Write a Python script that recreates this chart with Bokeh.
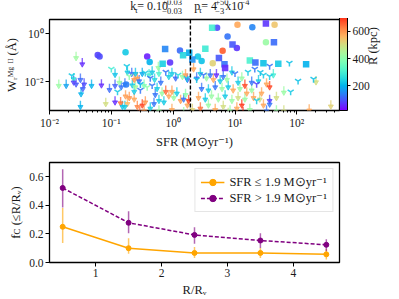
import numpy as np
from bokeh.plotting import figure
from bokeh.models import (ColumnDataSource, ColorBar, LinearColorMapper, FixedTicker,
                          Span, CustomJSTickFormatter, LinearAxis)
from bokeh.layouts import column
from bokeh.embed import file_html
from bokeh.resources import INLINE
from bokeh.core.properties import value

FONT = "Liberation Serif"
TXT = "#1a1a1a"

# ---------------- top panel data (log10 SFR, log10 W, R [kpc]) ----------------
circ_lsfr = [-1.22, -1.19, -0.77, -0.42, -0.05, 0.11, -0.38, -0.76, 0.71, 1.04, 1.28, 1.64,
             0.88, 1.03, 0.80, 1.50, 0.64, 0.46, 0.40]
circ_lw = [-0.88, -0.95, -0.77, -0.95, -1.20, -0.69, -1.17, -2.11, 0.26, 0.38, 0.28, 0.38,
           -0.11, -0.59, -0.71, -0.35, -1.23, -1.13, -0.95]
circ_r = [80, 90, 230, 50, 70, 120, 200, 140, 90, 580, 150, 540, 130, 70, 660, 420, 520, 220, 230]

sq_lsfr = [-0.13, 0.26, 0.16, -0.17, 0.31, 0.63, 1.50, 0.96, 0.52, 1.63, 0.74, 0.83, 0.84,
           1.24, 1.33, 1.46, 1.70, 2.15]
sq_lw = [-0.63, -0.79, -0.89, -1.25, -1.07, 0.26, 0.43, -0.44, -0.62, -0.35, -1.01, -1.27,
         -1.43, -1.11, -1.20, -1.23, -1.25, -1.27]
sq_r = [150, 190, 250, 240, 160, 300, 70, 100, 290, 120, 100, 130, 60, 310, 120, 220, 230, 200]

# upper limits (arrows)
lim_lsfr = [-1.57, -1.47, -1.85, -1.73, -1.61, -1.57, -1.50, -1.46, -1.44, -1.49, -1.32, -1.16,
            -1.03, -0.94, -0.94, -0.85, -0.94, -1.09, -1.50, -0.82, -0.87, -0.84, -1.61,
            -0.74, -0.67, -0.61, -0.58, -0.63, -0.66, -0.55, -0.78, -0.50, -0.39, -0.34, -0.30,
            -0.23, -0.24, -0.07, -0.02, 0.04, 0.15, 0.20, 0.23, -0.20, -0.47, -0.61, -0.77,
            -0.71, -0.63, -0.74, -0.58, -0.54, -0.50, -0.45, -0.29, -0.26, -0.18, -0.15, -0.12,
            -0.07, -0.02, 0.01, 0.06, 0.12, 0.17, 0.20, 0.23, 0.17, -0.02, -0.23, -0.37, -0.47,
            -0.31, -0.23, -0.63, -0.78, 0.33, 0.25, 0.31,
            0.44, 0.38, 0.54, 0.60, 0.65, 0.70, 0.76, 0.81, 0.87, 0.95, 1.05, 1.11, 1.16, 1.27,
            1.38, 1.51, 0.46, 0.57, 0.68, 0.79, 0.89, 0.97, 1.08, 1.19, 1.27, 1.43, 0.41, 0.52,
            0.62, 0.73, 0.84, 0.95, 1.05, 1.16, 1.30, 1.40, 0.44, 0.57, 0.68, 0.81, 0.92, 1.03,
            1.11, 1.13, 1.24, 1.46, 1.51, 0.89,
            1.62, 1.56, 2.31, 1.79, 1.67, 1.56, 1.56, 1.67, 1.79, 2.20, 2.55]
lim_lw = [-0.75, -1.01, -1.91, -1.91, -1.63, -1.85, -1.66, -2.04, -1.85, -2.26, -1.91, -1.89,
          -2.08, -1.45, -1.91, -2.64, -2.60, -2.67, -2.79, -2.79, -1.78, -1.97, -1.77,
          -1.35, -1.41, -1.41, -1.60, -1.66, -1.89, -1.72, -1.85, -1.41, -1.47, -1.35, -1.66,
          -1.41, -1.16, -1.54, -1.41, -1.60, -1.54, -1.47, -1.66, -1.78, -1.91, -1.97, -2.35,
          -2.42, -2.48, -2.67, -2.79, -3.02, -2.73, -2.60, -2.29, -2.04, -2.23, -2.60, -2.16,
          -2.35, -2.16, -2.42, -2.23, -2.54, -2.48, -2.29, -2.73, -3.05, -2.92, -2.98, -2.86,
          -2.98, -2.67, -2.54, -2.16, -2.79, -1.22, -2.54, -2.92,
          -1.41, -1.60, -1.60, -1.47, -1.66, -1.47, -1.72, -1.54, -1.66, -1.35, -1.78, -1.60,
          -1.91, -1.78, -1.72, -1.85, -2.04, -2.10, -1.97, -2.04, -1.97, -2.10, -2.04, -2.23,
          -2.10, -2.23, -2.42, -2.48, -2.35, -2.48, -2.35, -2.54, -2.42, -2.48, -2.42, -2.48,
          -2.86, -2.73, -2.92, -2.79, -2.98, -2.86, -2.73, -3.05, -2.92, -2.73, -2.98, -3.09,
          -1.47, -1.97, -1.76, -2.19, -2.42, -2.54, -2.69, -2.98, -2.98, -2.94, -2.77]
lim_r = [430, 60, 420, 180, 280, 100, 120, 110, 90, 200, 200, 60, 120, 220, 110, 640, 60, 500,
         200, 220, 420, 130, 80,
         230, 120, 220, 590, 600, 230, 130, 130, 190, 300, 230, 250, 310, 420, 240, 230, 120,
         420, 590, 120, 130, 380, 430, 590, 600, 580, 560, 620, 650, 680, 600, 130, 230, 420,
         230, 650, 580, 590, 420, 230, 590, 130, 400, 580, 420, 580, 420, 240, 600, 130, 230,
         230, 230, 580, 680, 520,
         230, 130, 420, 130, 580, 60, 230, 130, 420, 230, 230, 420, 680, 130, 230, 580, 130,
         230, 130, 420, 230, 580, 420, 580, 420, 580, 580, 230, 420, 420, 230, 420, 500, 420,
         580, 500, 640, 420, 580, 500, 420, 580, 690, 700, 420, 580, 130, 500,
         300, 680, 500, 420, 500, 80, 130, 420, 500, 580, 520]

# tri markers
tri_lsfr = [-1.00, -0.90, -0.71, -0.45, -0.12, 0.08, -0.37, -0.42, -0.34, -0.53, 0.49, 1.00,
            1.21, 1.32, 1.46, 0.38, 1.35, 1.35, 1.56, 1.88, 1.56, 2.02, 2.27, 1.90,
            -1.64, -0.75, -0.53, 0.22, 1.41]
tri_lw = [-1.47, -2.42, -1.78, -1.63, -1.60, -1.72, -1.85, -2.23, -2.16, -2.35, -1.72, -1.66,
          -1.60, -1.47, -1.72, -1.91, -2.10, -2.79, -1.35, -1.22, -1.78, -1.97, -1.89, -2.42,
          -1.74, -1.36, -2.11, -1.86, -1.61]
tri_r = [300, 230, 400, 240, 130, 260, 130, 400, 130, 130, 130, 130, 230, 130, 230, 230, 80,
         230, 130, 220, 230, 220, 220, 230, 230, 230, 200, 230, 220]

SFR_CUT = 1.9
R_LOW, R_HIGH = 20, 745
cbar_ticks = [200, 400, 600]
x_major = [1e-2, 1e-1, 1e0, 1e1, 1e2]
y_major = [1e-2, 1e0]

# ---------------- bottom panel data ----------------
rbins = [0.5, 1.5, 2.5, 3.5, 4.5]
fc_low = [0.25, 0.10, 0.067, 0.067, 0.057]
fc_low_lo = [0.136, 0.062, 0.032, 0.032, 0.021]
fc_low_hi = [0.381, 0.170, 0.108, 0.101, 0.094]
fc_high = [0.522, 0.278, 0.193, 0.154, 0.124]
fc_high_lo = [0.385, 0.205, 0.131, 0.101, 0.078]
fc_high_hi = [0.653, 0.359, 0.246, 0.205, 0.163]
bottom_yticks = [0.0, 0.2, 0.4, 0.6]
bottom_xticks = [1, 2, 3, 4]

ORANGE = "#ffa500"
PURPLE = "#800080"


def rainbow(n=256):
    pal = []
    for i in range(n):
        t = i / (n - 1)
        r = min(1.0, abs(2 * t - 0.5))
        g = np.sin(np.pi * t)
        b = np.cos(np.pi * t / 2)
        pal.append("#%02x%02x%02x" % (int(r * 255), int(g * 255), int(max(b, 0) * 255)))
    return pal


PAL = rainbow()

# ---------------- text helpers (title strip) ----------------
CW = {' ': .25, '−': .564, '+': .564, '=': .564, '.': .25, 'k': .5, 'p': .5, 'τ': .45,
      'x': .5}


def tw(text, size):
    return sum(CW.get(ch, .5) for ch in text) * size


W_TOTAL, H_TOTAL = 399, 299
TITLE_H = 18
title_f = figure(width=W_TOTAL, height=TITLE_H, x_range=(0, W_TOTAL), y_range=(0, TITLE_H),
                 output_backend="svg", toolbar_location=None, min_border=0,
                 x_axis_location=None, y_axis_location=None)
title_f.outline_line_color = None
title_f.grid.visible = False


def put(fx, fy, text, size):
    title_f.text(x=[fx], y=[TITLE_H - fy], text=[text], text_font=value(FONT),
                 text_font_size=value(f"{size}px"), text_color=TXT,
                 text_align="left", text_baseline="middle")


def hrow(fx, fy, parts):
    x = fx
    for part in parts:
        if part[0] == "STACK":
            _, sup, sub, size = part
            put(x + 0.5, fy - 4, sup, size)
            put(x + 0.5, fy + 4.5, sub, size)
            x += max(tw(sup, size), tw(sub, size)) + 1
        else:
            text, size, shift = part
            put(x, fy - shift, text, size)
            x += tw(text, size)


hrow(111, 5.5, [("k", 12, 0), ("τ", 8.5, -4), (" = 0.10", 12, 0),
                ("STACK", "+0.03", "−0.03", 8.5)])
hrow(199, 5.5, [("p", 12, 0), ("τ", 8.5, -4), (" = 4", 12, 0),
                ("STACK", "+50", "−3", 8.5), (" x10", 12, 0), ("−4", 8.5, 4)])


def style_axes(p):
    for ax in (p.xaxis[0], p.yaxis[0]):
        ax.axis_line_color = None
        ax.major_tick_line_color = "black"
        ax.minor_tick_line_color = "black"
        ax.major_tick_in = 0
        ax.major_tick_out = 4
        ax.minor_tick_in = 0
        ax.minor_tick_out = 2
        ax.major_label_text_font = FONT
        ax.major_label_text_font_size = "11.5px"
        ax.major_label_text_color = TXT
        ax.major_label_standoff = 2
        ax.axis_label_text_font = FONT
        ax.axis_label_text_font_size = "12.5px"
        ax.axis_label_text_font_style = "normal"
        ax.axis_label_text_color = TXT
        ax.axis_label_standoff = 3
    p.outline_line_color = "black"
    p.outline_line_width = 1.3
    p.grid.visible = False
    p.background_fill_color = "white"
    p.border_fill_color = "white"


# ---------------- top figure ----------------
P1_H = 133
p1 = figure(width=W_TOTAL, height=P1_H, x_axis_type="log", y_axis_type="log",
            x_range=(10 ** -2, 10 ** 2.69), y_range=(10 ** -3.2, 10 ** 0.6),
            output_backend="svg", toolbar_location=None,
            min_border_left=49, min_border_right=60, min_border_top=1, min_border_bottom=33)
style_axes(p1)
p1.xaxis.axis_label = "SFR (M⊙yr⁻¹)"
p1.yaxis.axis_label = "Wᵣᴹᵍ ᴵᴵ (Å)"
minor = [k * d for d in x_major for k in range(2, 10)]
p1.xaxis.ticker = FixedTicker(ticks=x_major, minor_ticks=minor)
p1.yaxis.ticker = FixedTicker(ticks=y_major, minor_ticks=[])
sup_js = """
const s = {"-": "\\u207b", "0": "\\u2070", "1": "\\u00b9", "2": "\\u00b2", "3": "\\u00b3",
           "4": "\\u2074", "5": "\\u2075", "6": "\\u2076", "7": "\\u2077", "8": "\\u2078", "9": "\\u2079"};
const e = Math.round(Math.log10(tick));
return "10" + String(e).split("").map(c => s[c]).join("");
"""
p1.xaxis.formatter = CustomJSTickFormatter(code=sup_js)
p1.yaxis.formatter = CustomJSTickFormatter(code=sup_js)

mapper = LinearColorMapper(palette=PAL, low=R_LOW, high=R_HIGH)
cmap = dict(field="r", transform=mapper)

lim_w = 10 ** np.array(lim_lw)
lim_src = ColumnDataSource(dict(x=10 ** np.array(lim_lsfr), y=lim_w,
                                y2=lim_w * 10 ** -0.26, r=lim_r))
p1.segment("x", "y", "x", "y2", source=lim_src, line_color=cmap, line_width=1.4, line_alpha=0.75)
p1.scatter("x", "y2", source=lim_src, marker="inverted_triangle", size=5,
           fill_color=cmap, line_color=cmap, alpha=0.75)

tri_src = ColumnDataSource(dict(x=10 ** np.array(tri_lsfr), y=10 ** np.array(tri_lw), r=tri_r))
p1.scatter("x", "y", source=tri_src, marker="y", size=7, line_color=cmap, line_width=1.5,
           line_alpha=0.85)

circ_src = ColumnDataSource(dict(x=10 ** np.array(circ_lsfr), y=10 ** np.array(circ_lw), r=circ_r))
p1.scatter("x", "y", source=circ_src, marker="circle", size=6.5, fill_color=cmap,
           line_color=None, fill_alpha=0.9)
sq_src = ColumnDataSource(dict(x=10 ** np.array(sq_lsfr), y=10 ** np.array(sq_lw), r=sq_r))
p1.scatter("x", "y", source=sq_src, marker="square", size=6.5, fill_color=cmap,
           line_color=None, fill_alpha=0.9)

p1.add_layout(Span(location=SFR_CUT, dimension="height", line_color="black",
                   line_dash="4 2", line_width=1.4))

cbar = ColorBar(color_mapper=mapper, width=8, height=P1_H - 34, location=(0, 0), padding=0,
                margin=7, ticker=FixedTicker(ticks=cbar_ticks),
                major_label_text_font=FONT, major_label_text_font_size="11.5px",
                major_label_text_color=TXT, major_tick_in=0, major_tick_out=3,
                major_tick_line_color="black", bar_line_color="black", bar_line_width=1,
                background_fill_color=None, border_line_color=None, label_standoff=2)
p1.add_layout(cbar, "right")

# colour-bar label as a tickless axis outside the colour bar
cb_axis = LinearAxis(ticker=FixedTicker(ticks=[]), axis_label="R (kpc)",
                     axis_line_color=None, major_tick_line_color=None,
                     minor_tick_line_color=None, major_label_text_font_size="0px",
                     axis_label_text_font=FONT, axis_label_text_font_size="12.5px",
                     axis_label_text_font_style="normal", axis_label_text_color=TXT,
                     axis_label_standoff=0)
if "axis_label_orientation" in LinearAxis.properties():
    cb_axis.axis_label_orientation = float(np.pi / 2)
p1.add_layout(cb_axis, "right")

# ---------------- bottom figure ----------------
P2_H = H_TOTAL - TITLE_H - P1_H
p2 = figure(width=W_TOTAL, height=P2_H, x_range=(0.3, 4.7), y_range=(0, 0.7),
            output_backend="svg", toolbar_location=None,
            min_border_left=49, min_border_right=60, min_border_top=11, min_border_bottom=36)
style_axes(p2)
p2.xaxis.axis_label = "R/Rᵥ"
p2.yaxis.axis_label = "fᴄ (≤R/Rᵥ)"
p2.xaxis.ticker = FixedTicker(ticks=bottom_xticks, minor_ticks=[])
p2.yaxis.ticker = FixedTicker(ticks=bottom_yticks, minor_ticks=[])
p2.yaxis.formatter = CustomJSTickFormatter(code="return tick.toFixed(1);")

lo_src = ColumnDataSource(dict(x=rbins, y=fc_low, lo=fc_low_lo, hi=fc_low_hi))
hi_src = ColumnDataSource(dict(x=rbins, y=fc_high, lo=fc_high_lo, hi=fc_high_hi))
p2.segment("x", "lo", "x", "hi", source=lo_src, line_color=ORANGE, line_width=1.5, line_alpha=0.6)
p2.segment("x", "lo", "x", "hi", source=hi_src, line_color=PURPLE, line_width=1.5, line_alpha=0.6)
lab_lo = "SFR ≤ 1.9 M⊙yr⁻¹"
lab_hi = "SFR > 1.9 M⊙yr⁻¹"
p2.line("x", "y", source=lo_src, line_color=ORANGE, line_width=1.5, legend_label=lab_lo)
p2.scatter("x", "y", source=lo_src, marker="circle", size=5, color=ORANGE, legend_label=lab_lo)
p2.line("x", "y", source=hi_src, line_color=PURPLE, line_width=1.5, line_dash="4 2",
        legend_label=lab_hi)
p2.scatter("x", "y", source=hi_src, marker="circle", size=5, color=PURPLE, legend_label=lab_hi)

lg = p2.legend[0]
lg.location = "top_right"
lg.margin = 6
lg.padding = 5
lg.spacing = 0
lg.label_text_font = FONT
lg.label_text_font_size = "12.5px"
lg.label_text_color = TXT
lg.glyph_width = 24
lg.glyph_height = 16
lg.label_height = 16
lg.border_line_color = "#cccccc"
lg.border_line_width = 1
lg.background_fill_alpha = 0.8

layout = column(title_f, p1, p2)
open("out.html", "w").write(file_html(layout, INLINE))
